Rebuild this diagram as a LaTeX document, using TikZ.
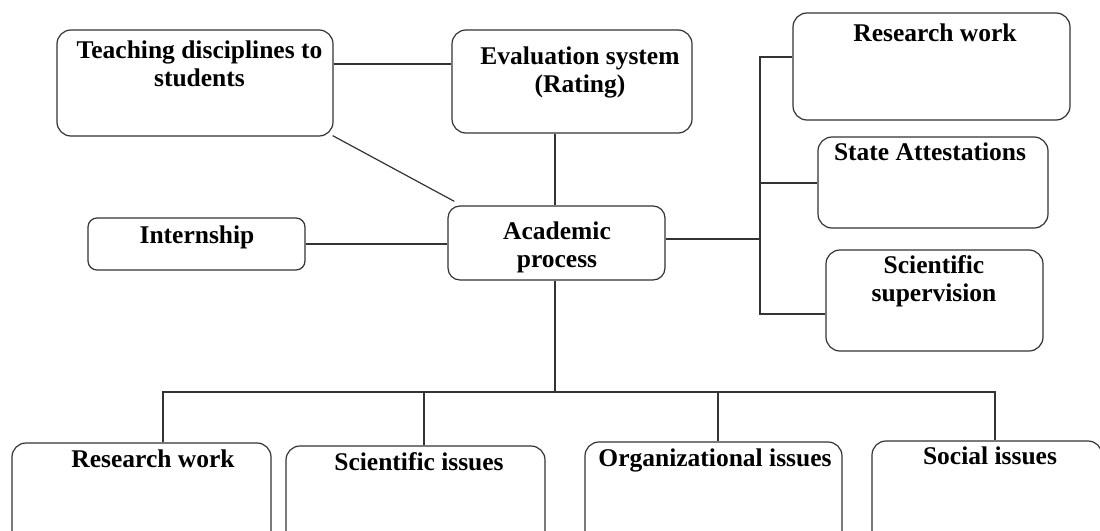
\documentclass[tikz,border=0pt]{standalone}
\usepackage{fontspec}
\setmainfont{Liberation Serif}
\usetikzlibrary{calc}
\tikzset{
  box/.style={draw=black!80, line width=1.2pt, rounded corners=14pt, inner sep=0pt},
  sbox/.style={box, rounded corners=9pt},
  txt/.style={font=\bfseries\fontsize{25.5}{28}\selectfont, align=center, inner sep=0pt, text=black},
  conn/.style={draw=black!80, line width=1.2pt},
}
\begin{document}
\begin{tikzpicture}[x=1pt,y=-1pt]
\clip (0,0) rectangle (1100,530);
\fill[white] (0,0) rectangle (1100,530);
% boxes
\node[box, minimum width=276pt, minimum height=106pt] (teach) at (195,83) {};
\node[box, minimum width=240pt, minimum height=103pt] (eval) at (572,81.5) {};
\node[box, minimum width=277pt, minimum height=107pt] (rw) at (931.5,66.5) {};
\node[box, minimum width=230pt, minimum height=91pt] (state) at (933,182.5) {};
\node[box, minimum width=217pt, minimum height=101pt] (sup) at (934.5,300.5) {};
\node[sbox, minimum width=217pt, minimum height=52pt] (intern) at (196.5,244) {};
\node[box, rounded corners=12pt, minimum width=217pt, minimum height=74pt] (acad) at (556.5,243) {};
\node[box, minimum width=259pt, minimum height=110pt] (brw) at (141.5,498) {};
\node[box, minimum width=259pt, minimum height=110pt] (bsci) at (415.5,501) {};
\node[box, minimum width=257pt, minimum height=110pt] (borg) at (713.5,497) {};
\node[box, minimum width=230pt, minimum height=110pt] (bsoc) at (987,496) {};
% texts
\node[txt] (tteach) at (199.5,64) {Teaching disciplines to\\students};
\node[txt] (teval) at (580,72.5) {Evaluation system\\(Rating)};
\node[txt] (trw) at (935,33) {Research work};
\node[txt] (tstate) at (930,152) {State Attestations};
\node[txt] (tsup) at (934,281) {Scientific\\supervision};
\node[txt] (tintern) at (197,237) {Internship};
\node[txt] (tacad) at (557,247) {Academic\\process};
\node[txt] (tbrw) at (153,459) {Research work};
\node[txt] (tbsci) at (419,462) {Scientific issues};
\node[txt] (tborg) at (715,460) {Organizational issues};
\node[txt] (tbsoc) at (990,456) {Social issues};
% coordinates
\coordinate (busR) at (760,239);
\coordinate (busB) at (555,392);
\coordinate (diagEnd) at ($(acad.north west)+(7,-4)$);
% connectors
\draw[conn] (teach.east |- 0,64) -- (eval.west |- 0,64);
\draw[conn] ($(teach.south east)+(-1,-1)$) -- (diagEnd);
\draw[conn] (eval.south -| 555,0) -- (acad.north -| 555,0);
\draw[conn] (intern.east |- 0,244) -- (acad.west |- 0,244);
\draw[conn] (acad.east |- busR) -- (busR);
\draw[conn] (rw.west |- 0,57) -| (busR) |- (sup.west |- 0,314);
\draw[conn] (busR |- 0,183) -- (state.west |- 0,183);
\draw[conn] (acad.south -| busB) -- (busB);
\draw[conn] (brw.north -| 163,0) |- (busB) -| (bsoc.north -| 995,0);
\draw[conn] (424,392) -- (bsci.north -| 424,0);
\draw[conn] (718,392) -- (borg.north -| 718,0);
\end{tikzpicture}
\end{document}
